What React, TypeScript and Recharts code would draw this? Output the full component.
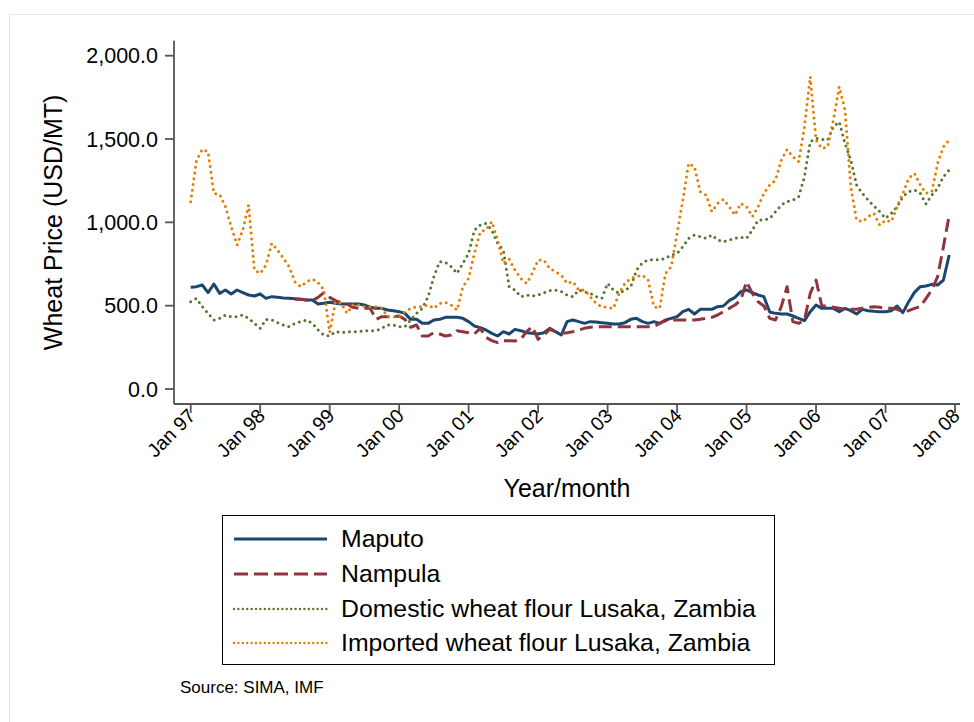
import { LineChart, Line, XAxis, YAxis, Legend } from "recharts";

// months since Jan 1997 (0 = Jan 97, 131 = Dec 07), US$ per metric ton
const maputo = [
  610, 614, 624, 578, 630, 574, 594, 570, 594, 578, 564, 558,
  570, 544, 554, 550, 546, 544, 542, 538, 534, 534, 510, 514,
  520, 514, 510, 510, 510, 510, 504, 490, 484, 484, 474, 470,
  464, 454, 418, 418, 394, 394, 414, 418, 430, 430, 430, 424,
  404, 378, 368, 354, 334, 318, 344, 330, 358, 350, 338, 334,
  330, 338, 364, 344, 324, 404, 414, 404, 394, 404, 402, 398,
  394, 390, 390, 398, 418, 424, 404, 394, 404, 394, 414, 424,
  434, 464, 478, 450, 478, 478, 478, 494, 498, 530, 550, 584,
  594, 578, 564, 554, 462, 454, 450, 450, 438, 424, 410, 464,
  504, 484, 484, 484, 464, 484, 470, 450, 478, 470, 466, 464,
  464, 470, 498, 458, 524, 580, 614, 618, 628, 624, 654, 804,
];

const nampula = [
  null, null, null, null, null, null, null, null, null, null, null, null,
  null, null, null, null, null, null, 538, 538, 534, 530, 550, 578,
  550, 530, 518, 510, 490, 484, 484, 484, 418, 434, 434, 434,
  438, 418, 370, 384, 318, 318, 338, 330, 318, 324, 350, 344,
  338, 330, 364, 310, 290, 278, 290, 290, 288, 298, 344, 374,
  298, 324, 358, 344, 334, 338, 344, 354, 364, 370, 374, 374,
  374, 374, 374, 374, 374, 374, 374, 374, 374, 394, 410, 414,
  414, 414, 414, 414, 418, 424, 430, 444, 464, 484, 504, 534,
  644, 574, 524, 498, 424, 414, 494, 614, 404, 394, 414, 574,
  654, 498, 498, 490, 484, 478, 478, 478, 484, 490, 494, 490,
  484, 484, 478, 464, 470, 484, 494, 544, 594, 674, 854, 1044,
];

const domestic = [
  524, 544, 494, 454, 414, 424, 444, 434, 434, 444, 424, 394,
  364, 418, 414, 398, 384, 374, 394, 404, 414, 394, 354, 324,
  318, 344, 338, 344, 344, 344, 350, 350, 350, 364, 384, 384,
  374, 374, 414, 454, 484, 554, 674, 764, 760, 734, 694, 754,
  814, 954, 984, 994, 954, 874, 834, 614, 594, 554, 564, 558,
  564, 578, 590, 594, 584, 564, 554, 594, 584, 574, 554, 544,
  634, 594, 574, 594, 614, 714, 758, 774, 778, 774, 784, 804,
  814, 854, 904, 924, 914, 904, 924, 894, 884, 894, 904, 910,
  904, 954, 1014, 1014, 1024, 1064, 1104, 1124, 1134, 1154, 1274, 1484,
  1504, 1498, 1494, 1574, 1604, 1474, 1374, 1224, 1174, 1134, 1098, 1064,
  1024, 1054, 1094, 1154, 1184, 1194, 1174, 1110, 1164, 1204, 1274, 1314,
];

const imported = [
  1124, 1374, 1438, 1424, 1174, 1168, 1094, 974, 864, 954, 1104, 714,
  694, 744, 874, 834, 784, 734, 644, 614, 644, 660, 638, 594,
  340, 524, 514, 454, 504, 504, 494, 494, 494, 484, 434, 434,
  434, 464, 484, 494, 494, 504, 484, 514, 520, 504, 474, 614,
  664, 814, 944, 954, 1004, 894, 754, 780, 714, 664, 634, 694,
  774, 774, 724, 704, 684, 634, 644, 594, 594, 554, 514, 494,
  490, 484, 574, 634, 664, 674, 684, 654, 494, 484, 694, 734,
  934, 1134, 1354, 1334, 1184, 1164, 1064, 1114, 1138, 1094, 1044, 1114,
  1094, 1034, 1094, 1174, 1224, 1254, 1374, 1438, 1394, 1364, 1574, 1874,
  1494, 1444, 1454, 1614, 1814, 1674, 1214, 1014, 1004, 1034, 1054, 984,
  1014, 1004, 1094, 1174, 1264, 1294, 1224, 1174, 1184, 1354, 1454, 1494,
];

const xTicks = [0, 12, 24, 36, 48, 60, 72, 84, 96, 108, 120, 132];
const xTickLabels = ["Jan 97", "Jan 98", "Jan 99", "Jan 00", "Jan 01", "Jan 02", "Jan 03", "Jan 04", "Jan 05", "Jan 06", "Jan 07", "Jan 08"];
const yTicks = [0, 500, 1000, 1500, 2000];

const FONT = '"Liberation Sans", Arial, Helvetica, sans-serif';

const series = [
  { key: "maputo", name: "Maputo", color: "#1a476f", width: 3, dash: undefined, cap: "butt", legendDash: undefined, legendWidth: 3 },
  { key: "nampula", name: "Nampula", color: "#90353b", width: 3, dash: "13 6", cap: "butt", legendDash: "14 6", legendWidth: 3 },
  { key: "domestic", name: "Domestic wheat flour Lusaka, Zambia", color: "#55752f", width: 3, dash: "0 5.8", cap: "round", legendDash: "0 4.4", legendWidth: 2.4 },
  { key: "imported", name: "Imported wheat flour Lusaka, Zambia", color: "#e37e00", width: 3, dash: "0 5.8", cap: "round", legendDash: "0 4.4", legendWidth: 2.4 },
];

const data = maputo.map((v, i) => ({
  m: i,
  maputo: v,
  nampula: nampula[i],
  domestic: domestic[i],
  imported: imported[i],
}));

function XTick({ x, y, payload }: any) {
  const idx = xTicks.indexOf(payload.value);
  return (
    <g transform={`translate(${x + 6},${y + 2})`}>
      <text x={0} y={0} textAnchor="end" transform="rotate(-45)" fontSize={19.5} fontFamily={FONT} fill="#000">
        {xTickLabels[idx]}
      </text>
    </g>
  );
}

function LegendBox() {
  return (
    <div
      style={{
        width: 553,
        height: 150,
        boxSizing: "border-box",
        border: "1.5px solid #000",
        background: "#fff",
        paddingTop: 6,
        fontFamily: FONT,
      }}
    >
      {series.map((s) => (
        <div key={s.key} style={{ height: 34.7, display: "flex", alignItems: "center" }}>
          <svg width={118} height={20} style={{ flex: "none" }}>
            <line
              x1={11}
              x2={104}
              y1={10}
              y2={10}
              stroke={s.color}
              strokeWidth={s.legendWidth}
              strokeDasharray={s.legendDash}
              strokeLinecap={s.cap as any}
            />
          </svg>
          <span style={{ fontSize: 24.8, color: "#000", whiteSpace: "nowrap" }}>{s.name}</span>
        </div>
      ))}
    </div>
  );
}

export default function App() {
  return (
    <div style={{ position: "absolute", left: 0, top: 0, width: 974, height: 722, background: "#fff", overflow: "hidden" }}>
      <div
        style={{
          position: "absolute",
          left: 9,
          top: 14,
          width: 1000,
          height: 800,
          borderTop: "1.5px solid #e4eaea",
          borderLeft: "1.5px solid #e4eaea",
        }}
      />
      <div style={{ position: "absolute", left: 0, top: 0 }}>
        <LineChart width={974} height={722} data={data} margin={{ top: 40.7, right: 14, bottom: 258, left: 0 }}>
          <XAxis
            dataKey="m"
            type="number"
            domain={[0, 132]}
            ticks={xTicks}
            interval={0}
            padding={{ left: 16.7, right: 5 }}
            height={60}
            stroke="#555"
            strokeWidth={1.8}
            tickSize={9}
            tickLine={{ stroke: "#555", strokeWidth: 1.8 }}
            tick={<XTick />}
            label={({ viewBox }: any) => (
              <text
                x={viewBox.x + viewBox.width / 2}
                y={viewBox.y + 84}
                textAnchor="middle"
                dominantBaseline="central"
                fontSize={25}
                fontFamily={FONT}
                fill="#000"
              >
                Year/month
              </text>
            )}
          />
          <YAxis
            type="number"
            domain={[0, 2000]}
            ticks={yTicks}
            interval={0}
            width={174}
            padding={{ top: 15, bottom: 15 }}
            stroke="#555"
            strokeWidth={1.8}
            tickSize={9}
            tickMargin={7}
            tickLine={{ stroke: "#555", strokeWidth: 1.8 }}
            tick={{ fontSize: 21.5, fontFamily: FONT, fill: "#000" }}
            tickFormatter={(v: number) => v.toLocaleString("en-US", { minimumFractionDigits: 1, maximumFractionDigits: 1 })}
            label={({ viewBox }: any) => (
              <text
                x={53}
                y={viewBox.y + viewBox.height / 2}
                textAnchor="middle"
                dominantBaseline="central"
                transform={`rotate(-90, 53, ${viewBox.y + viewBox.height / 2})`}
                fontSize={25}
                fontFamily={FONT}
                fill="#000"
              >
                Wheat Price (USD/MT)
              </text>
            )}
          />
          {series.map((s) => (
            <Line
              key={s.key}
              dataKey={s.key}
              name={s.name}
              type="linear"
              stroke={s.color}
              strokeWidth={s.width}
              strokeDasharray={s.dash}
              strokeLinecap={s.cap as any}
              strokeLinejoin="round"
              dot={false}
              activeDot={false}
              isAnimationActive={false}
            />
          ))}
          <Legend
            layout="vertical"
            align="center"
            verticalAlign="middle"
            wrapperStyle={{ left: 222, top: 515, width: 553 }}
            content={() => <LegendBox />}
          />
        </LineChart>
      </div>
      <div style={{ position: "absolute", left: 180, top: 678, fontFamily: FONT, fontSize: 17, color: "#000" }}>
        Source: SIMA, IMF
      </div>
    </div>
  );
}
